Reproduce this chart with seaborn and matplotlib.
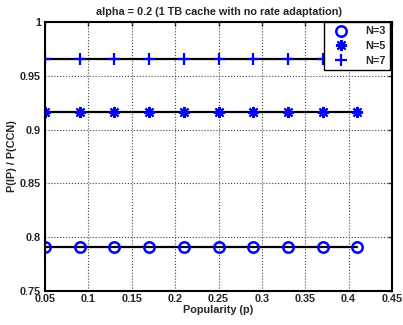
import numpy as np
import pandas as pd
import seaborn as sns
import matplotlib
matplotlib.use("Agg")
import matplotlib.pyplot as plt

# popularity values and P(IP)/P(CCN) ratio for each N
popularity = [0.05, 0.09, 0.13, 0.17, 0.21, 0.25, 0.29, 0.33, 0.37, 0.41]
ratio_n3 = [0.791] * 10
ratio_n5 = [0.9165] * 10
ratio_n7 = [0.9655] * 10
series_names = ["N=3", "N=5", "N=7"]

df = pd.DataFrame({
    "p": popularity * 3,
    "ratio": ratio_n3 + ratio_n5 + ratio_n7,
    "N": sum([[n] * len(popularity) for n in series_names], []),
})

sns.set_style("white")
plt.rcParams["font.family"] = ["Liberation Sans", "DejaVu Sans"]
plt.rcParams["font.weight"] = "bold"
fs = 7.8

fig = plt.figure(figsize=(4.03, 3.25), dpi=100)
ax = fig.add_axes([0.1117, 0.1046, 0.861, 0.8277])

# black lines
sns.lineplot(data=df, x="p", y="ratio", units="N", estimator=None,
             color="black", linewidth=1.6, ax=ax, legend=False)

markers = {"N=3": "o", "N=5": (8, 2, 0), "N=7": "+"}
for name in series_names:
    sub = df[df["N"] == name]
    m = markers[name]
    if m == "o":
        ax.plot(sub["p"], sub["ratio"], linestyle="none", marker="o", markersize=7.5,
                markerfacecolor="none", markeredgecolor="blue", markeredgewidth=1.8, label=name)
    elif m == "+":
        ax.plot(sub["p"], sub["ratio"], linestyle="none", marker=m, markersize=9,
                color="blue", markeredgewidth=1.6, label=name)
    else:
        ax.plot(sub["p"], sub["ratio"], linestyle="none", marker=m, markersize=8,
                color="blue", markeredgewidth=1.5, label=name)

ax.set_xlim(0.05, 0.45)
ax.set_ylim(0.75, 1.0)
ax.set_xticks(np.arange(0.05, 0.451, 0.05))
ax.set_xticklabels(["0.05", "0.1", "0.15", "0.2", "0.25", "0.3", "0.35", "0.4", "0.45"])
ax.set_yticks([0.75, 0.8, 0.85, 0.9, 0.95, 1.0])
ax.set_yticklabels(["0.75", "0.8", "0.85", "0.9", "0.95", "1"])
ax.grid(True, linestyle=":", color="#444444", linewidth=0.8)
ax.tick_params(direction="in", length=3, labelsize=fs, width=1, pad=2,
               top=True, right=True)
ax.tick_params(axis="y", pad=3)
for s in ax.spines.values():
    s.set_visible(True)
    s.set_color("black")
    s.set_linewidth(1.5)

ax.set_xlabel("Popularity (p)", fontsize=fs, fontweight="bold", labelpad=1)
ax.set_ylabel("P(IP) / P(CCN)", fontsize=fs, fontweight="bold", labelpad=2)
ax.set_title("alpha = 0.2 (1 TB cache with no rate adaptation)", fontsize=fs,
             fontweight="bold", pad=5)

leg = ax.legend(loc="upper right", bbox_to_anchor=(0.994, 1.0), fontsize=fs,
                frameon=True, fancybox=False, edgecolor="black", framealpha=1,
                borderpad=0.4, handletextpad=1.1, labelspacing=0.45, handlelength=2.3,
                borderaxespad=0, markerfirst=True)
leg.get_frame().set_linewidth(1.0)
for t in leg.get_texts():
    t.set_fontweight("bold")

fig.savefig("out.png", dpi=100)
